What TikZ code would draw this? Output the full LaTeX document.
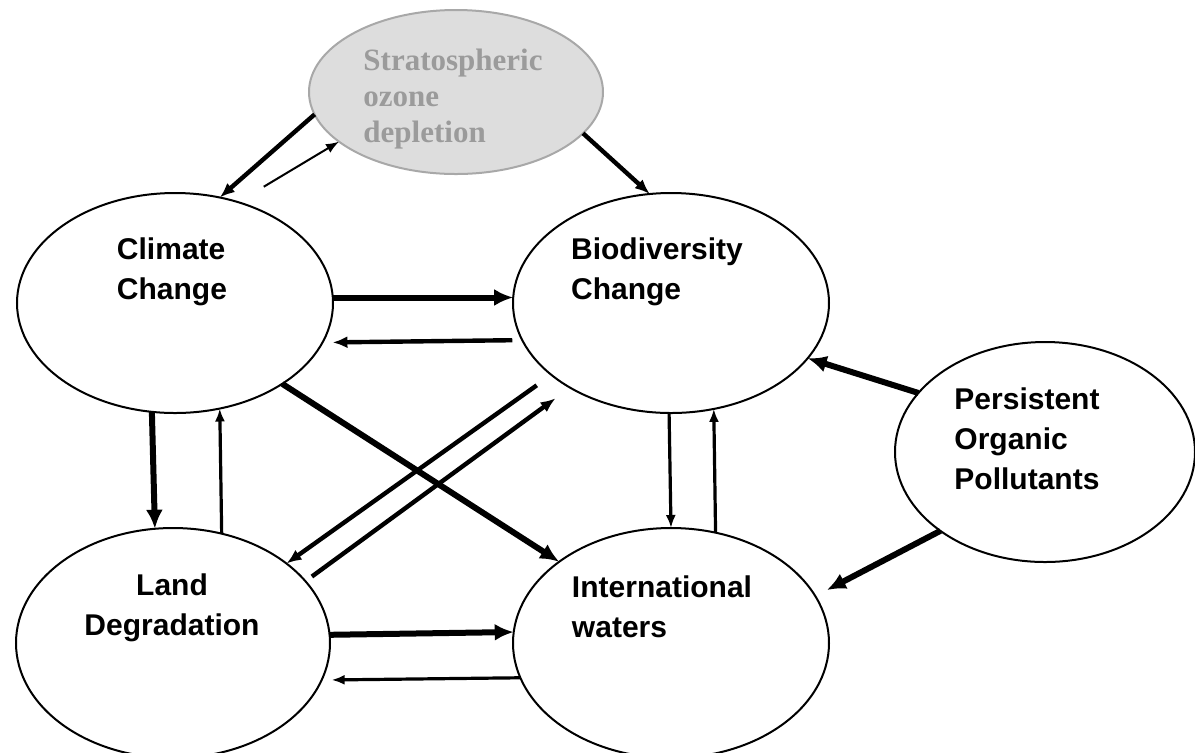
\documentclass[tikz,border=0pt]{standalone}
\usepackage{fontspec}
\setmainfont{Liberation Sans}
\newfontfamily\ozonefont{Liberation Serif}
\usepackage{tikz}
\usetikzlibrary{arrows.meta, shapes.geometric, positioning}
\definecolor{ozonefill}{RGB}{221,221,221}
\definecolor{ozoneline}{RGB}{168,168,168}
\definecolor{ozonetext}{RGB}{155,155,155}
\tikzset{
    issue/.style = {draw, ellipse, line width = 1pt, inner sep = 0pt, outer sep = 0pt},
    issuetext/.style = {font = \bfseries\fontsize{15}{20}\selectfont, align = left},
    bigarrow/.style = {line width = 3pt, -{Latex[length = 9.5pt, width = 8.5pt]}},
    midarrow/.style = {line width = 2.2pt, -{Latex[length = 7.5pt, width = 6pt]}},
    smallarrow/.style = {line width = 1.6pt, -{Latex[length = 6.5pt, width = 5pt]}},
    finearrow/.style = {line width = 1pt, -{Latex[length = 6.5pt, width = 5pt]}}
}

\begin{document}
\begin{tikzpicture}[x = 0.5pt, y = -0.5pt]
    % Pagina: 1195 x 752
    \useasboundingbox (0,0) rectangle (1195,752);
    % Ozono
    \node[issue, fill = ozonefill, draw = ozoneline, minimum width = 147pt, minimum height = 82pt] (ozone) at (456,92) {};
    \node[font = \ozonefont\bfseries\fontsize{15.5}{18}\selectfont, text = ozonetext, align = left] (ozone-txt) at (453,99) {Stratospheric\\ozone\\depletion};
    % Ellissi
    \node[issue, minimum width = 158pt, minimum height = 110pt] (climate) at (175,303) {};
    \node[issue, minimum width = 158pt, minimum height = 110pt] (biodiv) at (671,303) {};
    \node[issue, minimum width = 150pt, minimum height = 110pt] (pop) at (1045,452) {};
    \node[issue, minimum width = 157pt, minimum height = 115pt] (land) at (173,643) {};
    \node[issue, minimum width = 158pt, minimum height = 115pt] (waters) at (671,643) {};
    % Testi
    \node[issuetext] (climate-txt) at (172,272) {Climate\\Change};
    \node[issuetext] (biodiv-txt) at (657,272) {Biodiversity\\Change};
    \node[issuetext] (pop-txt) at (1027,439) {Persistent\\Organic\\Pollutants};
    \node[issuetext, align = center] (land-txt) at (172,608) {Land\\Degradation};
    \node[issuetext] (waters-txt) at (662,607) {International\\waters};
    % Frecce ozono
    \draw[midarrow] (ozone.189.3) -- (climate.67.9);
    \draw[finearrow, shorten <= 15pt] (climate.58) -- (ozone.203.3);
    \draw[midarrow] (ozone.342.4) -- (biodiv.101.7);
    % Frecce orizzontali
    \draw[bigarrow] (climate.2) -- (biodiv.178);
    \draw[midarrow, shorten <= 5pt, shorten >= 5pt] (biodiv.194.8) -- (climate.345.2);
    \draw[bigarrow] (land.3.7) -- (waters.176.4);
    \draw[smallarrow, shorten >= 5pt] (waters.193.1) -- (land.346.8);
    % Frecce verticali
    \draw[bigarrow] (climate.258.7) -- (land.99.9);
    \draw[smallarrow] (land.66.3) -- (climate.293.6);
    \draw[smallarrow] (biodiv.269.5) -- (waters.90.5);
    \draw[smallarrow] (waters.68.8) -- (biodiv.292.1);
    % Diagonali
    \draw[bigarrow] (climate.323.8) -- (waters.144.6);
    \draw[midarrow, shorten <= 9pt] (biodiv.211.5) -- (land.35.2);
    \draw[midarrow, shorten <= 4pt, shorten >= 9pt] (land.25.4) -- (biodiv.220.6);
    % POP
    \draw[bigarrow] (pop.155.1) -- (biodiv.338.3);
    \draw[bigarrow, shorten >= 6.5pt] (pop.217.8) -- (waters.18.8);
\end{tikzpicture}
\end{document}
